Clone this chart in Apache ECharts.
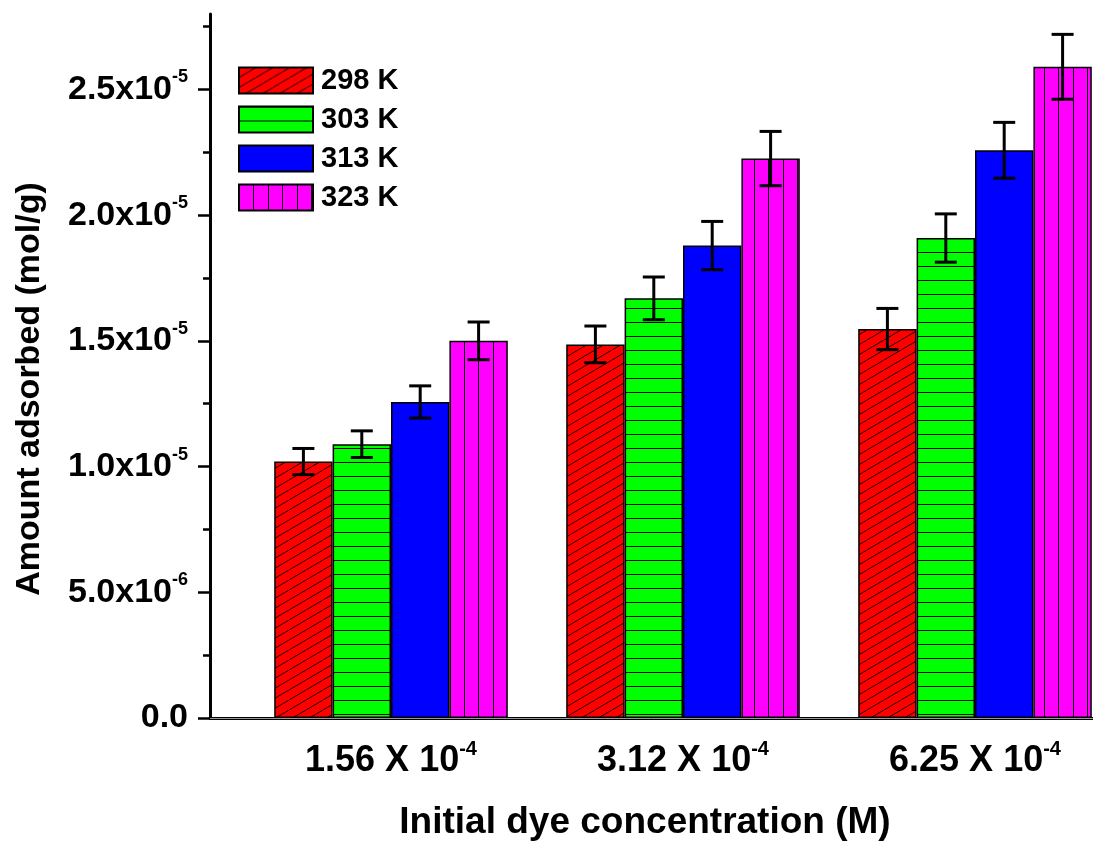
<!DOCTYPE html>
<html>
<head>
<meta charset="utf-8">
<script src="https://cdn.jsdelivr.net/npm/echarts@6/dist/echarts.min.js"></script>
<style>
  html, body { margin: 0; padding: 0; background: #fff; }
  #chart { width: 1093px; height: 845px; }
</style>
</head>
<body>
<div id="chart"></div>
<script>
// concentrations on the x axis (base ^ exponent)
const categories = ["1.56 X 10^-4", "3.12 X 10^-4", "6.25 X 10^-4"];
const seriesNames = ["298 K", "303 K", "313 K", "323 K"];

// amount adsorbed (mol/g)
const q298 = [1.02e-5, 1.486e-5, 1.547e-5];
const q303 = [1.089e-5, 1.669e-5, 1.909e-5];
const q313 = [1.257e-5, 1.879e-5, 2.258e-5];
const q323 = [1.50e-5, 2.225e-5, 2.59e-5];

// error bar half heights
const e298 = [0.052e-5, 0.073e-5, 0.082e-5];
const e303 = [0.053e-5, 0.085e-5, 0.096e-5];
const e313 = [0.064e-5, 0.096e-5, 0.111e-5];
const e323 = [0.075e-5, 0.108e-5, 0.129e-5];

const yTickValues = [0, 5e-6, 1e-5, 1.5e-5, 2e-5, 2.5e-5];
const yTickLabels = ["0.0", "5.0x10^-6", "1.0x10^-5", "1.5x10^-5", "2.0x10^-5", "2.5x10^-5"];
const yMinorTicks = [2.5e-6, 7.5e-6, 1.25e-5, 1.75e-5, 2.25e-5, 2.75e-5];
const yMax = 2.8e-5;

const values = [q298, q303, q313, q323];
const errors = [e298, e303, e313, e323];

const FONT = "'Liberation Sans', Arial, sans-serif";

function makePattern(w, h, fill, draw) {
  const c = document.createElement("canvas");
  c.width = w;
  c.height = h;
  const ctx = c.getContext("2d");
  ctx.fillStyle = fill;
  ctx.fillRect(0, 0, w, h);
  ctx.strokeStyle = "#1a0000";
  ctx.lineWidth = 1;
  draw(ctx, w, h);
  return { image: c, repeat: "repeat" };
}

const fills = [
  makePattern(17, 10, "#ff0000", (ctx, w, h) => {
    ctx.beginPath();
    for (const dx of [-w, 0, w]) {
      ctx.moveTo(dx, h);
      ctx.lineTo(dx + w, 0);
    }
    ctx.stroke();
  }),
  makePattern(8, 14, "#00ff00", (ctx, w) => {
    ctx.strokeStyle = "#000";
    ctx.beginPath();
    ctx.moveTo(0, 0.5);
    ctx.lineTo(w, 0.5);
    ctx.stroke();
  }),
  "#0000ff",
  makePattern(29, 8, "#ff00ff", (ctx, w, h) => {
    ctx.strokeStyle = "#000";
    ctx.beginPath();
    ctx.moveTo(0.5, 0);
    ctx.lineTo(0.5, h);
    ctx.moveTo(14.5, 0);
    ctx.lineTo(14.5, h);
    ctx.stroke();
  })
];

function supLabel(text) {
  const parts = text.split("^");
  if (parts.length < 2) return `{b|${parts[0]}}`;
  return `{b|${parts[0]}}{s|${parts[1]}}`;
}

const chart = echarts.init(document.getElementById("chart"));

const barSeries = seriesNames.map((name, i) => ({
  name,
  type: "bar",
  xAxisIndex: 2,
  yAxisIndex: 2,
  barGap: 0,
  barCategoryGap: "20%",
  data: values[i],
  itemStyle: { color: fills[i], borderColor: "#000", borderWidth: 1.5 }
}));

const errorData = [];
values.forEach((vals, s) => {
  vals.forEach((v, c) => errorData.push([c, v, errors[s][c], s]));
});

const errorSeries = {
  type: "custom",
  xAxisIndex: 2,
  yAxisIndex: 2,
  z: 5,
  data: errorData,
  renderItem: (params, api) => {
    const cat = api.value(0);
    const v = api.value(1);
    const e = api.value(2);
    const s = api.value(3);
    const band = api.size([1, 0])[0];
    const bw = (band * 0.8) / seriesNames.length;
    const x = api.coord([cat, v])[0] + (s - (seriesNames.length - 1) / 2) * bw;
    const top = api.coord([cat, v + e])[1];
    const bot = api.coord([cat, v - e])[1];
    const cap = 11;
    const style = { stroke: "#000", lineWidth: 3 };
    return {
      type: "group",
      children: [
        { type: "line", shape: { x1: x, y1: top, x2: x, y2: bot }, style },
        { type: "line", shape: { x1: x - cap, y1: top, x2: x + cap, y2: top }, style },
        { type: "line", shape: { x1: x - cap, y1: bot, x2: x + cap, y2: bot }, style }
      ]
    };
  }
};

chart.setOption({
  animation: false,
  backgroundColor: "#fff",
  textStyle: { fontFamily: FONT },
  grid: [
    { left: 210, right: 0, top: 14, bottom: 127, outerBoundsMode: "none", containLabel: false },
    { left: 245, width: 876, top: 14, bottom: 127, outerBoundsMode: "none", containLabel: false }
  ],
  legend: {
    data: seriesNames,
    orient: "vertical",
    left: 233,
    top: 61,
    icon: "rect",
    itemWidth: 74,
    itemHeight: 26,
    itemGap: 10,
    textStyle: { fontFamily: FONT, fontSize: 29, fontWeight: "bold", color: "#000", padding: [0, 0, 0, 3] }
  },
  xAxis: [
    {
      gridIndex: 0,
      type: "value",
      position: "bottom",
      axisLine: { show: true, lineStyle: { color: "#000", width: 3 } },
      axisTick: { show: false },
      axisLabel: { show: false },
      splitLine: { show: false }
    },
    {
      gridIndex: 0,
      type: "value",
      position: "top",
      axisLine: { show: true, lineStyle: { color: "#999", width: 1 } },
      axisTick: { show: false },
      axisLabel: { show: false },
      splitLine: { show: false }
    },
    {
      gridIndex: 1,
      type: "category",
      data: categories,
      axisLine: { show: false },
      axisTick: { show: false },
      splitLine: { show: false },
      axisLabel: {
        margin: 21,
        formatter: supLabel,
        rich: {
          b: { fontFamily: FONT, fontSize: 36, fontWeight: "bold", color: "#000", lineHeight: 44 },
          s: { fontFamily: FONT, fontSize: 20, fontWeight: "bold", color: "#000", lineHeight: 20, verticalAlign: "top" }
        }
      }
    }
  ],
  yAxis: [
    {
      gridIndex: 0,
      type: "value",
      position: "left",
      min: 0,
      max: yMax,
      axisLine: { show: true, lineStyle: { color: "#000", width: 3 } },
      axisTick: {
        show: true,
        customValues: yTickValues,
        length: 12,
        lineStyle: { color: "#000", width: 2.5 }
      },
      axisLabel: {
        customValues: yTickValues,
        margin: 22,
        formatter: (v) => {
          const idx = yTickValues.findIndex((t) => Math.abs(t - v) < 1e-9);
          return idx >= 0 ? supLabel(yTickLabels[idx]) : "";
        },
        rich: {
          b: { fontFamily: FONT, fontSize: 34, fontWeight: "bold", color: "#000", lineHeight: 42 },
          s: { fontFamily: FONT, fontSize: 18, fontWeight: "bold", color: "#000", lineHeight: 18, verticalAlign: "top" }
        }
      },
      splitLine: { show: false }
    },
    {
      gridIndex: 0,
      type: "value",
      position: "left",
      min: 0,
      max: yMax,
      axisLine: { show: false },
      axisTick: {
        show: true,
        customValues: yMinorTicks,
        length: 7,
        lineStyle: { color: "#000", width: 2.5 }
      },
      axisLabel: { show: false },
      splitLine: { show: false }
    },
    {
      gridIndex: 1,
      type: "value",
      min: 0,
      max: yMax,
      show: false
    }
  ],
  graphic: [
    {
      type: "text",
      x: 30,
      y: 389,
      rotation: Math.PI / 2,
      style: {
        text: "Amount adsorbed (mol/g)",
        fontFamily: FONT,
        fontSize: 34,
        fontWeight: "bold",
        fill: "#000",
        textAlign: "center",
        textVerticalAlign: "middle"
      }
    },
    {
      type: "text",
      x: 645,
      y: 823,
      style: {
        text: "Initial dye concentration (M)",
        fontFamily: FONT,
        fontSize: 37,
        fontWeight: "bold",
        fill: "#000",
        textAlign: "center",
        textVerticalAlign: "middle"
      }
    }
  ],
  series: [...barSeries, errorSeries]
});
</script>
</body>
</html>
